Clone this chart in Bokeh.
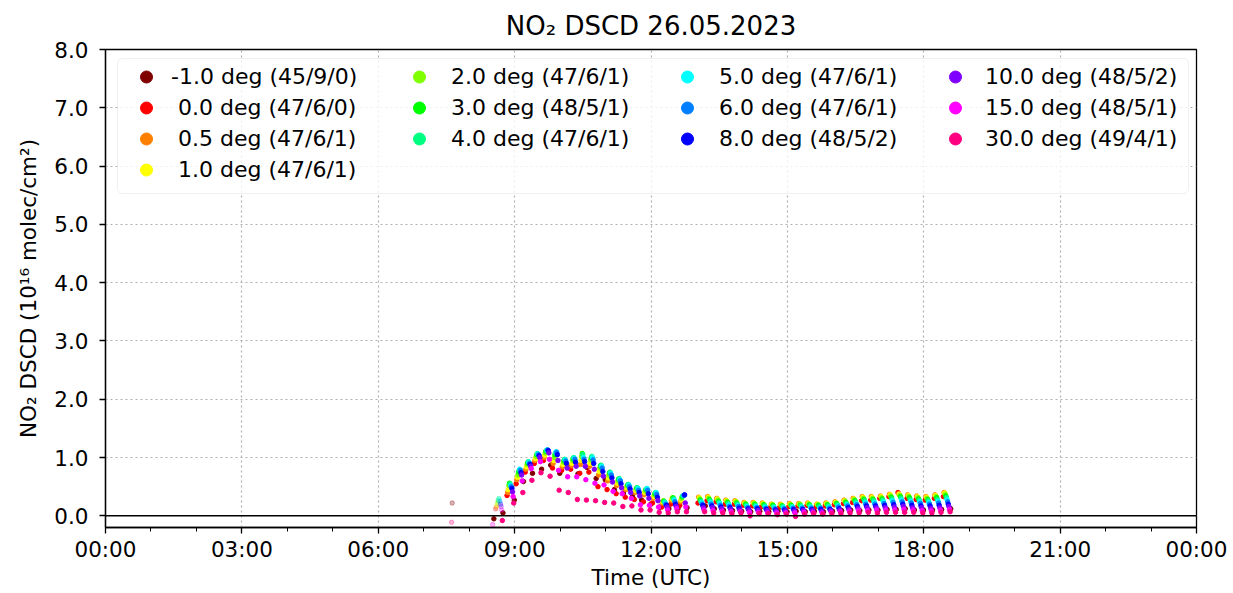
import math
from bokeh.plotting import figure
from bokeh.models import (ColumnDataSource, Legend, LegendItem, FixedTicker, Span,
                          BoxAnnotation, Range1d, PrintfTickFormatter)
from bokeh.embed import file_html
from bokeh.resources import INLINE

nan = float("nan")

title_text = "NO\u2082 DSCD 26.05.2023"
x_label = "Time (UTC)"
y_label = "NO\u2082 DSCD (10\u00b9\u2076 molec/cm\u00b2)"

x_tick_hours = [0, 3, 6, 9, 12, 15, 18, 21, 24]
x_tick_labels = ["00:00", "03:00", "06:00", "09:00", "12:00", "15:00", "18:00", "21:00", "00:00"]
x_minor_hours = list(range(25))
y_ticks = [0, 1, 2, 3, 4, 5, 6, 7, 8]

# start time of each elevation scan (UTC)
scan_start = ["07:28", "08:23", "08:35", "08:50", "09:02", "09:14", "09:26", "09:38", "09:50",
              "10:02", "10:14", "10:26", "10:38", "10:50", "11:02", "11:14", "11:26", "11:38",
              "11:50", "12:02", "12:14", "12:26", "12:38", "13:02", "13:14", "13:26", "13:38",
              "13:50", "14:02", "14:14", "14:26", "14:38", "14:50", "15:02", "15:14", "15:26",
              "15:38", "15:50", "16:02", "16:14", "16:26", "16:38", "16:50", "17:02", "17:14",
              "17:26", "17:38", "17:50", "18:02", "18:14", "18:26"]

elevations = [-1.0, 0.0, 0.5, 1.0, 2.0, 3.0, 4.0, 5.0, 6.0, 8.0, 10.0, 15.0, 30.0]
elev_labels = ["-1.0 deg (45/9/0)", " 0.0 deg (47/6/0)", " 0.5 deg (47/6/1)", " 1.0 deg (47/6/1)",
               " 2.0 deg (47/6/1)", " 3.0 deg (48/5/1)", " 4.0 deg (47/6/1)",
               " 5.0 deg (47/6/1)", " 6.0 deg (47/6/1)", " 8.0 deg (48/5/2)",
               "10.0 deg (48/5/2)", "15.0 deg (48/5/1)", "30.0 deg (49/4/1)"]
elev_colors = ["#800000", "#ff0000", "#ff8000", "#ffff00", "#80ff00", "#00ff00", "#00ff80",
               "#00ffff", "#0080ff", "#0000ff", "#8000ff", "#ff00ff", "#ff0080"]
# minutes after scan start at which each elevation is measured
scan_offset_min = [9.6, 0.0, 0.8, 1.6, 2.4, 3.2, 4.0, 4.8, 5.6, 6.4, 7.2, 8.0, 8.8]

# NO2 DSCD (1e16 molec/cm2) per scan
dscd_m1 = [0.22, -0.05, 0.05, 0.27, 0.59, 0.73, 0.80, 0.87, 0.73, 0.83, 0.72, 0.83, 0.64, 0.62, 0.45,
           0.39, 0.33, 0.27, 0.20, 0.15, 0.12, 0.13, 0.14, 0.17, 0.12, 0.10, 0.09, 0.08, 0.07, 0.08,
           0.07, 0.08, 0.07, 0.08, 0.07, 0.08, 0.07, 0.08, 0.09, 0.10, 0.09, 0.10, 0.10, 0.11, 0.11,
           0.12, 0.10, 0.10, 0.10, 0.11, 0.12]
dscd_0 = [nan, nan, 0.12, 0.35, 0.55, 0.75, 0.90, 0.95, 0.82, 0.78, 0.80, 0.73, 0.75, 0.50, 0.45,
          0.38, 0.32, 0.28, 0.24, 0.22, 0.15, 0.20, 0.18, 0.22, 0.26, 0.24, 0.20, 0.20, 0.18, 0.17,
          0.16, 0.15, 0.15, 0.16, 0.17, 0.18, 0.16, 0.17, 0.19, 0.21, 0.23, 0.26, 0.27, 0.30, 0.33,
          0.40, 0.30, 0.28, 0.27, 0.30, 0.33]
dscd_05 = [nan, nan, 0.15, 0.40, 0.62, 0.80, 0.95, 1.00, 0.90, 0.84, 0.86, 0.88, 0.85, 0.70, 0.60,
           0.52, 0.45, 0.40, 0.36, 0.30, 0.22, 0.26, 0.24, 0.32, 0.33, 0.30, 0.27, 0.26, 0.23, 0.23,
           0.22, 0.20, 0.20, 0.21, 0.21, 0.22, 0.20, 0.22, 0.24, 0.27, 0.30, 0.33, 0.33, 0.34, 0.37,
           0.38, 0.36, 0.34, 0.33, 0.36, 0.40]
dscd_1 = [nan, nan, 0.18, 0.45, 0.66, 0.84, 0.98, 1.04, 0.95, 0.88, 0.90, 0.95, 0.90, 0.76, 0.65,
          0.56, 0.48, 0.43, 0.40, 0.33, 0.24, 0.29, 0.27, 0.31, 0.32, 0.29, 0.26, 0.25, 0.22, 0.22,
          0.21, 0.20, 0.19, 0.20, 0.20, 0.21, 0.20, 0.21, 0.23, 0.26, 0.29, 0.32, 0.32, 0.33, 0.36,
          0.37, 0.35, 0.33, 0.32, 0.35, 0.39]
dscd_2 = [nan, nan, 0.22, 0.52, 0.70, 0.88, 1.02, 1.08, 1.00, 0.92, 0.95, 1.02, 0.96, 0.82, 0.70,
          0.60, 0.51, 0.46, 0.43, 0.36, 0.26, 0.31, 0.30, 0.29, 0.30, 0.27, 0.25, 0.24, 0.21, 0.21,
          0.20, 0.19, 0.18, 0.19, 0.20, 0.20, 0.19, 0.20, 0.22, 0.25, 0.28, 0.30, 0.30, 0.31, 0.34,
          0.35, 0.33, 0.31, 0.30, 0.33, 0.37]
dscd_3 = [nan, nan, 0.26, 0.56, 0.75, 0.91, 1.05, 1.11, 1.05, 0.95, 0.98, 1.07, 1.00, 0.86, 0.74,
          0.63, 0.53, 0.48, 0.45, 0.38, 0.25, 0.31, 0.33, 0.27, 0.28, 0.25, 0.23, 0.22, 0.20, 0.20,
          0.19, 0.18, 0.17, 0.18, 0.18, 0.19, 0.18, 0.19, 0.21, 0.23, 0.26, 0.28, 0.28, 0.29, 0.32,
          0.33, 0.31, 0.29, 0.28, 0.31, 0.34]
dscd_4 = [nan, nan, 0.30, 0.55, 0.78, 0.93, 1.07, 1.12, 1.08, 0.97, 1.00, 1.05, 1.02, 0.87, 0.75,
          0.64, 0.54, 0.48, 0.46, 0.40, 0.24, 0.29, 0.34, 0.25, 0.26, 0.23, 0.21, 0.20, 0.18, 0.18,
          0.17, 0.16, 0.16, 0.16, 0.17, 0.17, 0.16, 0.17, 0.19, 0.21, 0.24, 0.26, 0.26, 0.27, 0.29,
          0.30, 0.28, 0.27, 0.26, 0.28, 0.31]
dscd_5 = [nan, nan, 0.28, 0.52, 0.80, 0.92, 1.06, 1.13, 1.10, 0.96, 0.99, 1.00, 1.00, 0.85, 0.73,
          0.62, 0.53, 0.47, 0.47, 0.40, 0.22, 0.27, 0.35, 0.23, 0.23, 0.21, 0.19, 0.18, 0.16, 0.16,
          0.15, 0.14, 0.14, 0.15, 0.15, 0.15, 0.14, 0.15, 0.17, 0.19, 0.21, 0.23, 0.23, 0.24, 0.26,
          0.27, 0.25, 0.24, 0.23, 0.25, 0.28]
dscd_6 = [nan, nan, 0.25, 0.50, 0.78, 0.90, 1.05, 1.13, 1.09, 0.94, 0.97, 0.97, 0.96, 0.82, 0.70,
          0.60, 0.50, 0.44, 0.44, 0.37, 0.20, 0.24, 0.35, 0.20, 0.20, 0.18, 0.16, 0.16, 0.14, 0.14,
          0.13, 0.12, 0.12, 0.13, 0.13, 0.13, 0.13, 0.13, 0.15, 0.17, 0.19, 0.20, 0.20, 0.21, 0.23,
          0.24, 0.22, 0.21, 0.20, 0.22, 0.24]
dscd_8 = [nan, nan, 0.20, 0.47, 0.74, 0.88, 1.03, 1.12, 1.05, 0.90, 0.92, 0.93, 0.90, 0.76, 0.65,
          0.55, 0.46, 0.40, 0.38, 0.32, 0.18, 0.20, 0.36, 0.18, 0.17, 0.15, 0.14, 0.13, 0.12, 0.12,
          0.11, 0.10, 0.10, 0.11, 0.11, 0.11, 0.11, 0.11, 0.12, 0.14, 0.16, 0.17, 0.17, 0.18, 0.19,
          0.20, 0.18, 0.17, 0.17, 0.18, 0.20]
dscd_10 = [nan, nan, 0.16, 0.41, 0.70, 0.85, 1.00, 1.08, 0.95, 0.82, 0.85, 0.85, 0.80, 0.68, 0.58,
           0.48, 0.40, 0.34, 0.30, 0.26, 0.15, 0.16, 0.22, 0.14, 0.14, 0.12, 0.11, 0.10, 0.10, 0.09,
           0.09, 0.08, 0.08, 0.08, 0.09, 0.09, 0.08, 0.09, 0.10, 0.11, 0.13, 0.14, 0.14, 0.14, 0.15,
           0.16, 0.14, 0.14, 0.13, 0.14, 0.16]
dscd_15 = [nan, -0.15, 0.10, 0.33, 0.60, 0.81, 0.93, 0.97, 0.78, 0.67, 0.67, 0.62, 0.56, 0.53, 0.42,
           0.38, 0.30, 0.19, 0.18, 0.15, 0.10, 0.12, 0.15, 0.10, 0.09, 0.08, 0.07, 0.07, 0.06, 0.06,
           0.05, 0.05, 0.05, 0.05, 0.06, 0.06, 0.05, 0.06, 0.07, 0.08, 0.09, 0.09, 0.10, 0.10, 0.10,
           0.11, 0.10, 0.09, 0.09, 0.10, 0.11]
dscd_30 = [-0.11, nan, -0.08, 0.22, 0.40, 0.61, 0.74, 0.68, 0.44, 0.40, 0.28, 0.27, 0.26, 0.23, 0.22,
           0.16, 0.17, 0.10, 0.10, 0.06, 0.05, 0.07, 0.07, 0.07, 0.05, 0.05, 0.04, 0.05, 0.00, 0.04,
           0.04, 0.02, 0.03, -0.01, 0.03, 0.04, 0.03, 0.04, 0.04, 0.05, 0.05, 0.06, 0.05, 0.06, 0.06,
           0.06, 0.06, 0.05, 0.05, 0.06, 0.07]

dscd_by_elev = [dscd_m1, dscd_0, dscd_05, dscd_1, dscd_2, dscd_3, dscd_4, dscd_5, dscd_6,
                dscd_8, dscd_10, dscd_15, dscd_30]
# scans whose value is flagged (drawn faint)
flagged_scans = [[0], [2], [2], [2], [2], [2], [2], [2], [2], [2], [2], [1, 2], [0]]

legend_columns = [[0, 1, 2, 3], [4, 5, 6], [7, 8, 9], [10, 11, 12]]


def to_hours(hhmm):
    h, m = hhmm.split(":")
    return int(h) + int(m) / 60.0


scan_hours = [to_hours(s) for s in scan_start]

FONT = "DejaVu Sans"

p = figure(width=1233, height=593, x_range=Range1d(0, 24), y_range=Range1d(-0.2, 8.0),
           output_backend="svg", toolbar_location=None,
           min_border_left=105, min_border_right=37, min_border_top=47, min_border_bottom=66)
p.background_fill_color = "white"
p.border_fill_color = "white"
p.outline_line_color = "black"
p.outline_line_width = 1.3

p.title.text = title_text
p.title.align = "center"
p.title.text_font = FONT
p.title.text_font_size = "26px"
p.title.text_font_style = "normal"
p.title.text_color = "black"
p.title.standoff = 17

p.xaxis.ticker = FixedTicker(ticks=x_tick_hours, minor_ticks=x_minor_hours)
p.xaxis.major_label_overrides = {h: lab for h, lab in zip(x_tick_hours, x_tick_labels)}
p.yaxis.ticker = FixedTicker(ticks=y_ticks, minor_ticks=[])
p.yaxis.formatter = PrintfTickFormatter(format="%.1f")
p.xaxis.axis_label = x_label
p.yaxis.axis_label = y_label

for ax in (p.xaxis, p.yaxis):
    ax.axis_line_color = "black"
    ax.axis_line_width = 1.3
    ax.major_tick_line_color = "black"
    ax.major_tick_line_width = 1.3
    ax.major_tick_out = 6
    ax.major_tick_in = 0
    ax.minor_tick_line_color = "black"
    ax.minor_tick_line_width = 1.0
    ax.minor_tick_out = 4
    ax.minor_tick_in = 0
    ax.major_label_text_font = FONT
    ax.major_label_text_font_size = "21.5px"
    ax.major_label_text_color = "black"
    ax.axis_label_text_font = FONT
    ax.axis_label_text_font_size = "21.5px"
    ax.axis_label_text_font_style = "normal"
    ax.axis_label_text_color = "black"
p.xaxis.major_label_standoff = 3
p.xaxis.axis_label_standoff = 0
p.yaxis.major_label_standoff = 11
p.yaxis.axis_label_standoff = 10

for g in (p.xgrid, p.ygrid):
    g.grid_line_color = "#b0b0b0"
    g.grid_line_dash = "2 3"
    g.grid_line_width = 1.2
p.xgrid.ticker = FixedTicker(ticks=x_tick_hours)
p.ygrid.ticker = FixedTicker(ticks=y_ticks)

p.add_layout(Span(location=0, dimension="width", line_color="black", line_width=1.5))

renderers = []
for k, elev in enumerate(elevations):
    xg, yg, xf, yf = [], [], [], []
    for i, v in enumerate(dscd_by_elev[k]):
        if math.isnan(v):
            continue
        x = scan_hours[i] + scan_offset_min[k] / 60.0
        if i in flagged_scans[k]:
            xf.append(x)
            yf.append(v)
        else:
            xg.append(x)
            yg.append(v)
    r = p.scatter(x="x", y="y", source=ColumnDataSource(dict(x=xg, y=yg)), size=4.5,
                  fill_color=elev_colors[k], line_color=elev_colors[k])
    if xf:
        p.scatter(x="x", y="y", source=ColumnDataSource(dict(x=xf, y=yf)), size=4.5,
                  fill_color=elev_colors[k], line_color=elev_colors[k], alpha=0.3)
    renderers.append(r)

frame_box = BoxAnnotation(left=117, right=1188, top=58, bottom=193,
                          left_units="canvas", right_units="canvas",
                          top_units="canvas", bottom_units="canvas",
                          fill_color="white", fill_alpha=0.8, line_color="#cccccc",
                          line_width=1, border_radius=5)
p.add_layout(frame_box)

col_x = [26, 299, 567, 835]
col_standoff = [10, 10, 10, 15]
for c, idxs in enumerate(legend_columns):
    rows = len(idxs)
    items = [LegendItem(label=elev_labels[k], renderers=[renderers[k]]) for k in idxs]
    leg = Legend(items=items, location=(col_x[c], 465.8 - rows * 31),
                 orientation="vertical", border_line_color=None,
                 background_fill_alpha=0.0, padding=0, margin=0, spacing=0,
                 label_height=31, glyph_height=31, glyph_width=30,
                 label_standoff=col_standoff[c],
                 label_text_font=FONT, label_text_font_size="22px", label_text_color="black")
    p.add_layout(leg)

open("out.html", "w").write(file_html(p, INLINE))
